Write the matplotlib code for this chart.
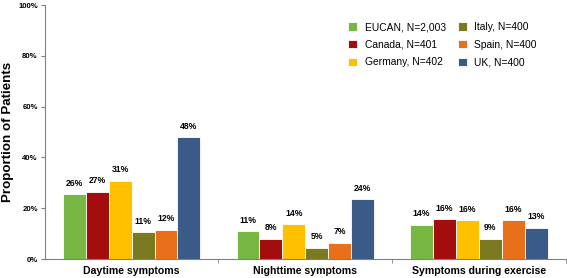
import numpy as np
import matplotlib.pyplot as plt

plt.rcParams['font.family'] = ['Liberation Sans', 'DejaVu Sans']

categories = ['Daytime symptoms', 'Nighttime symptoms', 'Symptoms during exercise']
series = ['EUCAN, N=2,003', 'Canada, N=401', 'Germany, N=402',
          'Italy, N=400', 'Spain, N=400', 'UK, N=400']
colors = ['#77b843', '#a30d0d', '#ffc000', '#7a7a20', '#e8701a', '#3a5a88']

# bar heights (%) and printed labels
eucan = [25.5, 11.0, 13.6]
canada = [26.4, 7.9, 15.7]
germany = [30.8, 13.7, 15.2]
italy = [10.5, 4.4, 8.1]
spain = [11.5, 6.4, 15.2]
uk = [48.0, 23.6, 12.3]
values = [eucan, canada, germany, italy, spain, uk]

eucan_lbl = ['26%', '11%', '14%']
canada_lbl = ['27%', '8%', '16%']
germany_lbl = ['31%', '14%', '16%']
italy_lbl = ['11%', '5%', '9%']
spain_lbl = ['12%', '7%', '16%']
uk_lbl = ['48%', '24%', '13%']
labels = [eucan_lbl, canada_lbl, germany_lbl, italy_lbl, spain_lbl, uk_lbl]

fig = plt.figure(figsize=(5.67, 2.78), dpi=100)
ax = fig.add_axes([0.079, 0.068, 0.919, 0.914])

x = np.arange(len(categories))
w = 0.132
for i, (name, vals, lbls, c) in enumerate(zip(series, values, labels, colors)):
    pos = x + (i - 2.5) * w
    ax.bar(pos, vals, width=w, color=c, edgecolor='white', linewidth=0.6, label=name)
    for p, v, t in zip(pos, vals, lbls):
        ax.text(p, v + 2.6, t, ha='center', va='bottom', fontsize=6.2, fontweight='bold')

ax.set_xlim(-0.5, 2.5)
ax.set_ylim(0, 100)
ax.set_yticks(range(0, 101, 20))
ax.set_yticklabels([f'{t}%' for t in range(0, 101, 20)], fontsize=5.6, fontweight='bold')
ax.set_xticks(x)
ax.set_xticklabels(categories, fontsize=7.6, fontweight='bold')
ax.tick_params(axis='x', length=0, pad=5)
ax.set_xticks([0.5, 1.5, 2.5], minor=True)
ax.tick_params(axis='x', which='minor', length=3, color='gray')
ax.tick_params(axis='y', length=3, color='gray', pad=2)
ax.set_ylabel('Proportion of Patients', fontsize=9.6, fontweight='bold')
ax.yaxis.set_label_coords(-0.060, 0.5)

for s in ['top', 'right']:
    ax.spines[s].set_visible(False)
for s in ['left', 'bottom']:
    ax.spines[s].set_color('gray')
    ax.spines[s].set_linewidth(0.8)

ax.legend(ncol=2, loc='upper left', bbox_to_anchor=(0.582, 0.933), frameon=False,
          borderaxespad=0, borderpad=0,
          fontsize=7.4, handlelength=0.9, handleheight=0.9, columnspacing=1.2,
          labelspacing=0.75, handletextpad=0.7)

fig.savefig('out.png', dpi=100)
